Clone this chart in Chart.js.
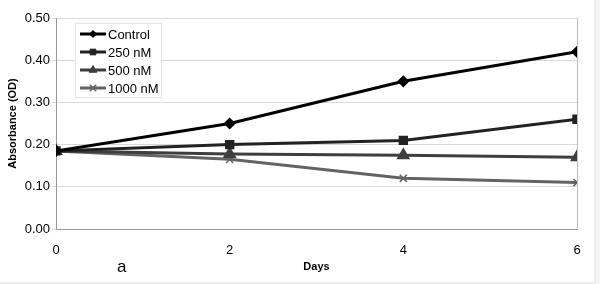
<!DOCTYPE html>
<html>
<head>
<meta charset="utf-8">
<script src="https://cdn.jsdelivr.net/npm/chart.js"></script>
<style>
    html, body { margin: 0; padding: 0; background: #f4f4f4; }
    #wrap { position: relative; width: 594px; height: 282px; background: #fff; border-right: 2px solid #ececec; border-bottom: 2px solid #ececec; }
    #panel { position: absolute; left: 117px; top: 257px; font: 17px 'Liberation Sans', Arial, sans-serif; color: #000; }
</style>
</head>
<body>
<div id="wrap">
    <canvas id="chart" width="594" height="282"></canvas>
    <div id="panel">a</div>
</div>
<script>
// data
const days = [0, 2, 4, 6];
const control = [0.185, 0.25, 0.35, 0.42];
const nm250 = [0.185, 0.20, 0.21, 0.26];
const nm500 = [0.185, 0.178, 0.175, 0.17];
const nm1000 = [0.185, 0.165, 0.12, 0.11];
const seriesNames = ['Control', '250 nM', '500 nM', '1000 nM'];

const FONT = "'Liberation Sans', Arial, sans-serif";

function pts(vals) {
    return vals.map((v, i) => ({ x: days[i], y: v }));
}

// legend drawn as line + marker, like the office-style chart
const boxLegend = {
    id: 'boxLegend',
    afterDraw(chart) {
        const ctx = chart.ctx;
        const x0 = 75, y0 = 23, w = 86, h = 74;
        ctx.save();
        ctx.fillStyle = '#fff';
        ctx.fillRect(x0, y0, w, h);
        ctx.strokeStyle = '#e4e4e4';
        ctx.lineWidth = 1;
        ctx.strokeRect(x0 + 0.5, y0 + 0.5, w, h);
        chart.data.datasets.forEach((ds, i) => {
            const y = y0 + 11 + i * 18;
            ctx.strokeStyle = ds.borderColor;
            ctx.lineWidth = 3;
            ctx.beginPath();
            ctx.moveTo(80, y);
            ctx.lineTo(106, y);
            ctx.stroke();
            ctx.fillStyle = ds.backgroundColor;
            ctx.lineWidth = ds.pointStyle === 'crossRot' ? 1.5 : 1;
            Chart.helpers.drawPoint(ctx, {
                pointStyle: ds.pointStyle, radius: ds.pointRadius - 0.5,
                borderWidth: ctx.lineWidth
            }, 93, y);
            ctx.fillStyle = '#000';
            ctx.font = '13px ' + FONT;
            ctx.textBaseline = 'middle';
            ctx.fillText(ds.label, 108, y + 1);
        });
        ctx.restore();
    }
};

// right-hand border of the plot area
const plotFrame = {
    id: 'plotFrame',
    beforeDatasetsDraw(chart) {
        const a = chart.chartArea, ctx = chart.ctx;
        ctx.save();
        ctx.strokeStyle = '#bdbdbd';
        ctx.lineWidth = 1;
        ctx.beginPath();
        ctx.moveTo(a.right + 0.5, a.bottom);
        ctx.lineTo(a.right + 0.5, a.top);
        ctx.stroke();
        ctx.restore();
    }
};

new Chart(document.getElementById('chart'), {
    type: 'line',
    data: {
        datasets: [
            { label: seriesNames[0], data: pts(control), borderColor: '#000', backgroundColor: '#000', pointStyle: 'rectRot', pointRadius: 4 },
            { label: seriesNames[1], data: pts(nm250), borderColor: '#222', backgroundColor: '#222', pointStyle: 'rect', pointRadius: 4.5 },
            { label: seriesNames[2], data: pts(nm500), borderColor: '#3e3e3e', backgroundColor: '#3e3e3e', pointStyle: 'triangle', pointRadius: 5 },
            { label: seriesNames[3], data: pts(nm1000), borderColor: '#636363', backgroundColor: '#636363', pointStyle: 'crossRot', pointRadius: 5, pointBorderWidth: 1.5 }
        ].map(d => Object.assign({ borderWidth: 3, tension: 0, pointHoverRadius: d.pointRadius, pointBorderColor: d.borderColor }, d))
    },
    options: {
        responsive: false,
        animation: false,
        layout: { padding: { top: 18, right: 17, left: 0, bottom: 0 } },
        plugins: { legend: { display: false }, tooltip: { enabled: false } },
        scales: {
            x: {
                type: 'linear', min: 0, max: 6,
                ticks: { stepSize: 2, color: '#000', font: { family: FONT, size: 13 }, padding: 6 },
                grid: { display: false, drawTicks: true },
                border: { color: '#9a9a9a', width: 1 },
                title: { display: true, text: 'Days', color: '#000', font: { family: FONT, size: 11, weight: 'bold' }, padding: { top: 2, bottom: 8 } },
                afterFit(s) { s.height = 53; }
            },
            y: {
                min: 0, max: 0.5,
                ticks: { stepSize: 0.1, color: '#000', font: { family: FONT, size: 13 }, callback: v => v.toFixed(2), padding: 2 },
                grid: { color: '#d9d9d9', tickLength: 4 },
                border: { color: '#9a9a9a', width: 1 },
                title: { display: true, text: 'Absorbance (OD)', color: '#000', font: { family: FONT, size: 11, weight: 'bold' }, padding: { top: 6, bottom: 4 } },
                afterFit(s) { s.width = 56; }
            }
        }
    },
    plugins: [plotFrame, boxLegend]
});
</script>
</body>
</html>
